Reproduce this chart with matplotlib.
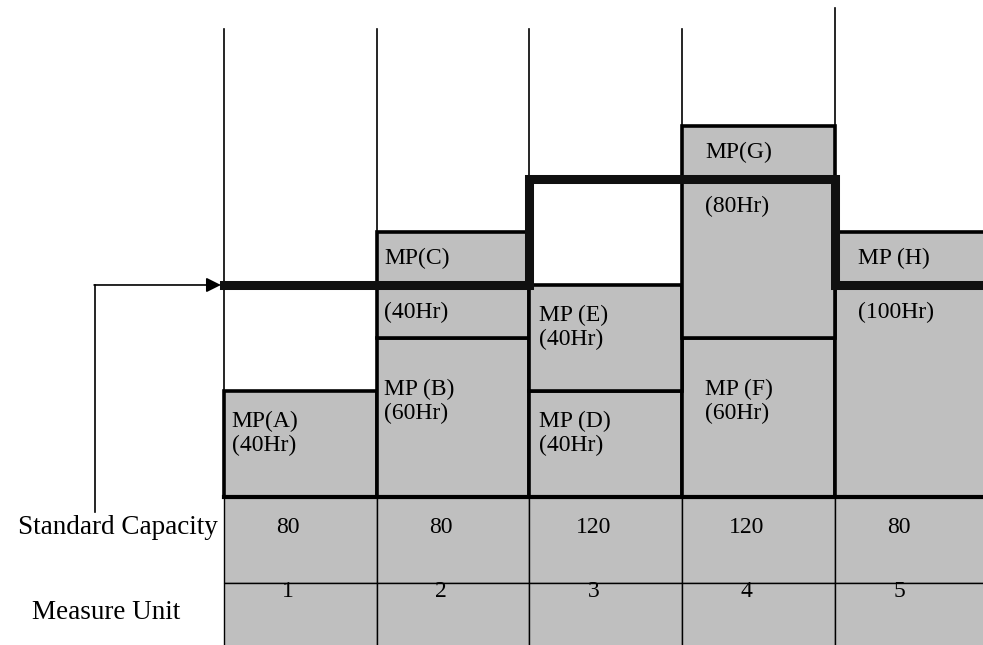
import matplotlib.pyplot as plt

# measure units and their standard capacity (hours)
units = ['1', '2', '3', '4', '5']
std_capacity = [80, 80, 120, 120, 80]

# work packages stacked in each measure unit
lower_names = ['MP(A)', 'MP (B)', 'MP (D)', 'MP (F)', 'MP (H)']
lower_hours = [40, 60, 40, 60, 100]
upper_names = ['', 'MP(C)', 'MP (E)', 'MP(G)', '']
upper_hours = [0, 40, 40, 80, 0]

GRAY = '#bfbfbf'
FONT = 'Liberation Serif'
ROW1 = 32.5     # height of "Standard Capacity" row, in chart units
ROW2 = 40.0
name_pad = [0.05, 0.05, 0.06, 0.15, 0.15]

fig = plt.figure(figsize=(9.83, 6.45), dpi=100)
ax = fig.add_axes([0, 0, 1, 1])
ax.set_xlim(-1.466, 4.969)
ax.set_ylim(-55.8, 187.5)
ax.axis('off')

xs = list(range(len(units)))

# bottom table
ax.bar(xs, [ROW1] * 5, bottom=-ROW1, width=1, align='edge',
       color=GRAY, edgecolor='black', linewidth=1.0, zorder=1)
ax.bar(xs, [ROW2] * 5, bottom=-ROW1 - ROW2, width=1, align='edge',
       color=GRAY, edgecolor='black', linewidth=1.0, zorder=1)

# thin column guides above the blocks
for i in range(5):
    top = 184.5 if i == 4 else 176.6
    ax.plot([i, i], [0, top], color='black', lw=1.2, zorder=2)

# stacked blocks
ax.bar(xs, lower_hours, width=1, align='edge', color=GRAY,
       edgecolor='black', linewidth=2.6, zorder=3)
ax.bar(xs, upper_hours, bottom=lower_hours, width=1, align='edge',
       color=[GRAY if h else 'none' for h in upper_hours],
       edgecolor=['black' if h else 'none' for h in upper_hours],
       linewidth=2.6, zorder=3)
ax.plot([0, 5], [0, 0], color='black', lw=3, zorder=4)

# standard capacity step line
ax.step(xs + [5], std_capacity + [std_capacity[-1]], where='post',
        color='#101010', lw=6.5, solid_joinstyle='miter', zorder=5)

# block labels
def label(i, name, bottom, hours):
    top = bottom + hours
    cap = std_capacity[i]
    x = i + name_pad[i]
    if bottom < cap < top:
        ax.text(x, (cap + top) / 2, name, family=FONT, fontsize=17,
                va='center', ha='left', zorder=6)
        ax.text(x, cap - 10.5, f'({hours}Hr)', family=FONT, fontsize=17,
                va='center', ha='left', zorder=6)
    else:
        ax.text(x, bottom + 0.6 * hours, f'{name}\n({hours}Hr)', family=FONT,
                fontsize=17, va='center', ha='left', linespacing=1.2, zorder=6)

for i in xs:
    label(i, lower_names[i], 0, lower_hours[i])
    if upper_hours[i]:
        label(i, upper_names[i], lower_hours[i], upper_hours[i])

# table text
for i in xs:
    ax.text(i + 0.42, -11.3, str(std_capacity[i]), family=FONT, fontsize=17,
            ha='center', va='center', zorder=6)
    ax.text(i + 0.42, -ROW1 + 0.8, units[i], family=FONT, fontsize=17,
            ha='center', va='top', zorder=6)
ax.text(-0.04, -11.3, 'Standard Capacity', family=FONT, fontsize=19.5,
        ha='right', va='center')
ax.text(-0.77, -43.4, 'Measure Unit', family=FONT, fontsize=19.5,
        ha='center', va='center')

# pointer from the table label up to the capacity line
ax.plot([-0.845, -0.845], [-5.7, std_capacity[0]], color='black', lw=1.2)
ax.annotate('', xy=(-0.02, std_capacity[0]), xytext=(-0.85, std_capacity[0]),
            arrowprops=dict(arrowstyle='-|>', color='black', lw=1.2,
                            mutation_scale=22, shrinkA=0, shrinkB=0))

fig.savefig('out.png', dpi=100)
